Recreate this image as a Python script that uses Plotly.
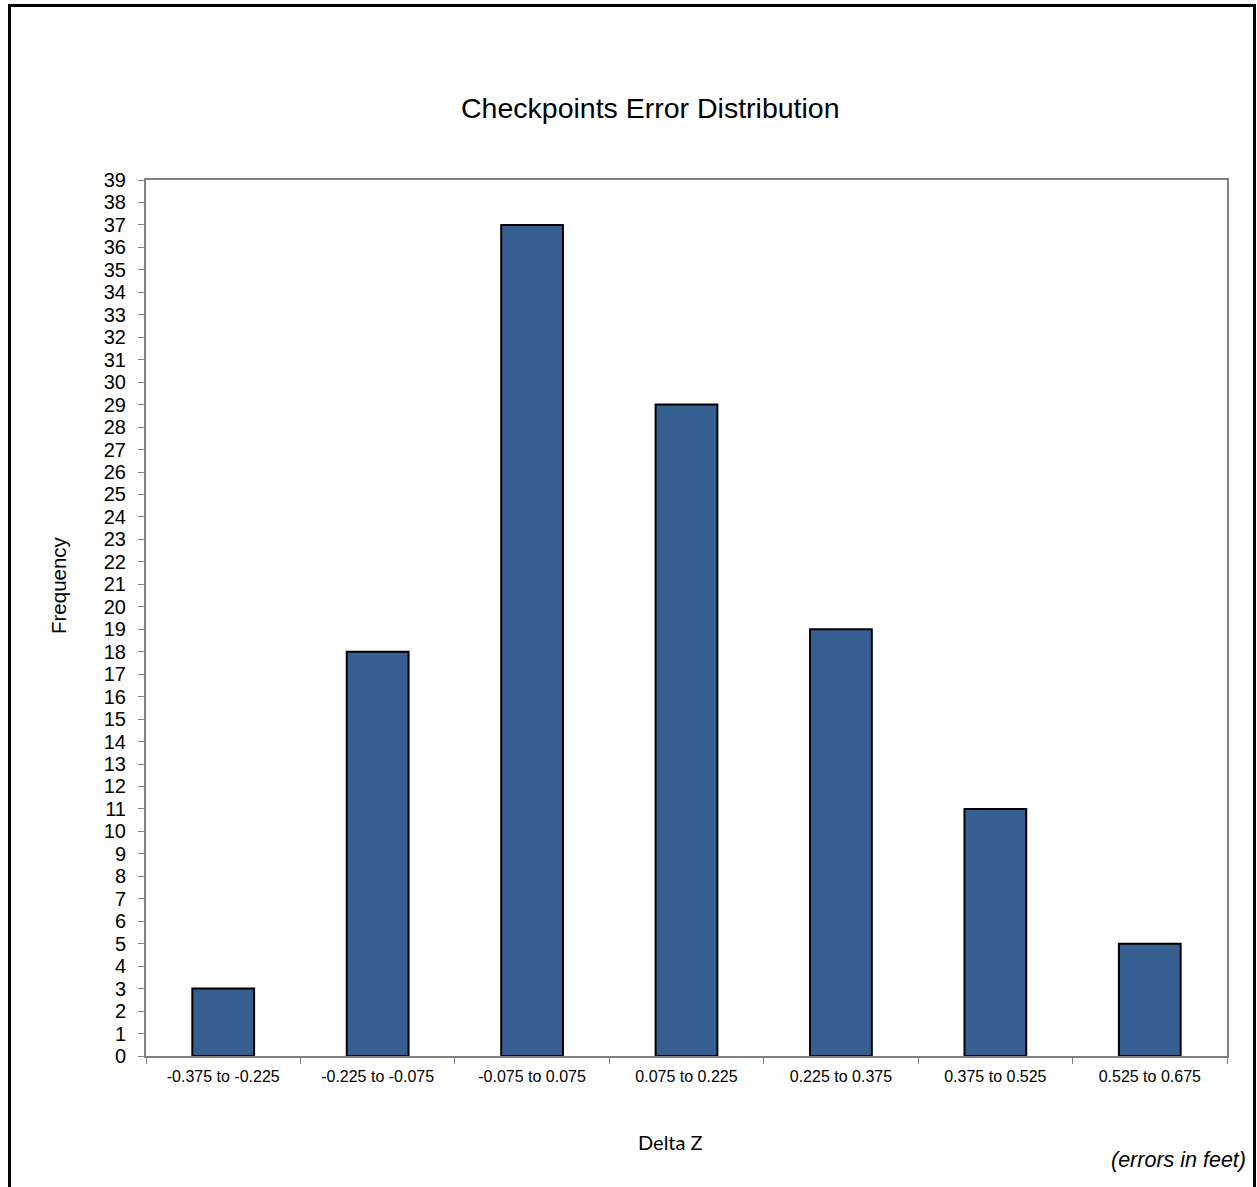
import plotly.graph_objects as go

# Histogram bins of checkpoint elevation errors (feet) and their counts
bins = ["-0.375 to -0.225", "-0.225 to -0.075", "-0.075 to 0.075",
        "0.075 to 0.225", "0.225 to 0.375", "0.375 to 0.525", "0.525 to 0.675"]
frequency = [3, 18, 37, 29, 19, 11, 5]
y_ticks = list(range(0, 40))

W, H = 1257, 1187
L, R, T, B = 146, 1227, 180, 1056  # plot area in pixels


def px(x):
    return (x - L) / (R - L)


def py(y):
    return (B - y) / (B - T)


fig = go.Figure(go.Bar(
    x=bins, y=frequency,
    width=0.4,
    marker=dict(color="#365F91", line=dict(color="#000000", width=2)),
))

fig.update_layout(
    width=W, height=H,
    margin=dict(l=L, r=W - R, t=T, b=H - B),
    paper_bgcolor="white", plot_bgcolor="white",
    showlegend=False,
    font=dict(family="Liberation Sans, Arial", color="#000000"),
)

fig.update_xaxes(
    type="category",
    tickson="boundaries",
    ticks="outside", ticklen=6, tickcolor="#808080", tickwidth=1,
    showline=True, linecolor="#808080", linewidth=2, mirror=True,
    showgrid=False, zeroline=False,
    tickfont=dict(size=16, family="Liberation Sans, Arial"),
    ticklabelstandoff=5,
)
fig.update_yaxes(
    range=[0, 39],
    tickvals=y_ticks, ticktext=[str(v) for v in y_ticks],
    ticks="outside", ticklen=6, tickcolor="#808080", tickwidth=1,
    showline=True, linecolor="#808080", linewidth=2, mirror=True,
    showgrid=False, zeroline=False,
    tickfont=dict(size=20, family="Liberation Sans, Arial"),
    ticklabelstandoff=8,
)

annotations = [
    dict(text="Checkpoints Error Distribution", x=px(650), y=py(108),
         font=dict(size=28.5, family="Liberation Sans, Arial")),
    dict(text="Frequency", x=px(58), y=py(585), textangle=-90,
         font=dict(size=20.5, family="Liberation Sans, Arial")),
    dict(text="Delta Z", x=px(670), y=py(1142),
         font=dict(size=20, family="Lato, Open Sans")),
    dict(text="<i>(errors in feet)</i>", x=px(1248), y=py(1160), xanchor="right",
         font=dict(size=21.5, family="Liberation Sans, Arial")),
]
for a in annotations:
    a.setdefault("xanchor", "center")
    fig.add_annotation(xref="paper", yref="paper", yanchor="middle",
                       showarrow=False, **a)

# Black frame around the chart (open at the bottom edge of the page)
fig.add_shape(
    type="path", xref="paper", yref="paper",
    path=f"M {px(9.5)},{py(1200)} L {px(9.5)},{py(5.5)} "
         f"L {px(1254.5)},{py(5.5)} L {px(1254.5)},{py(1200)}",
    line=dict(color="#000000", width=3),
)

fig.write_html("out.html")
